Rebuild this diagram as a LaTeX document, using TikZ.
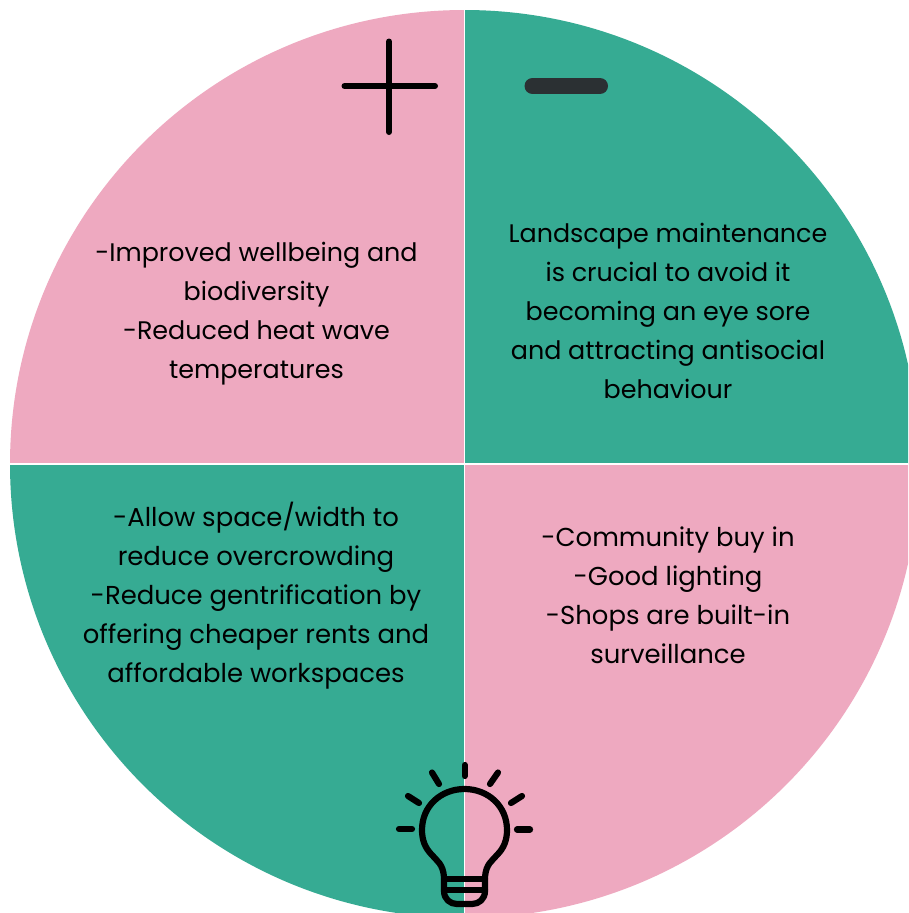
\documentclass[tikz,border=0pt]{standalone}
\usepackage{fontspec}
\setmainfont{Poppins}
\definecolor{pinkq}{HTML}{EEA9C0}
\definecolor{greenq}{HTML}{36AB93}
\definecolor{darkbar}{HTML}{2B3033}
\tikzset{
  lbl/.style={align=center,font=\fontsize{25.4}{39}\selectfont,text=black,inner sep=0pt},
  lblb/.style={align=center,font=\fontsize{25.9}{39}\selectfont,text=black,inner sep=0pt},
  ico/.style={draw=black,line width=6.2pt,line cap=round,line join=round},
}
\begin{document}
\begin{tikzpicture}[x=1pt,y=-1pt]
\useasboundingbox (0,0) rectangle (908,913);
\clip (0,0) rectangle (908,913);
\fill[white] (0,0) rectangle (908,913);
\fill[pinkq] (464.5,464) -- (10,464) arc[start angle=180,end angle=90,x radius=454.5,y radius=-454] -- cycle;
\fill[greenq] (464.5,464) -- (464.5,10) arc[start angle=90,end angle=0,x radius=454.5,y radius=-454] -- cycle;
\fill[greenq] (464.5,464) -- (10,464) arc[start angle=180,end angle=270,x radius=454.5,y radius=-454] -- cycle;
\fill[pinkq] (464.5,464) -- (464.5,918) arc[start angle=270,end angle=360,x radius=454.5,y radius=-454] -- cycle;
\coordinate (top) at (464.5,10);
\coordinate (bot) at (464.5,918);
\coordinate (lft) at (10,464);
\coordinate (rgt) at (919,464);
\draw[white,line width=1.2pt] (top) -- (bot);
\draw[white,line width=1.2pt] (lft) -- (rgt);
% plus
\draw[ico,line width=6pt] (344.5,86) -- (435,86);
\draw[ico,line width=6pt] (389,41.5) -- (389,132);
% minus
\draw[darkbar,line width=16pt,line cap=round] (532.5,86) -- (600,86);
% texts
\node[lbl] (tl) at (256.5,313.5) {-Improved wellbeing and\\biodiversity\\-Reduced heat wave\\temperatures};
\node[lbl] (tr) at (668,310.5) {Landscape maintenance\\is crucial to avoid it\\becoming an eye sore\\and attracting antisocial\\behaviour};
\node[lblb] (bl) at (256,596) {-Allow space/width to\\reduce overcrowding\\-Reduce gentrification by\\offering cheaper rents and\\affordable workspaces};
\node[lblb] (br) at (668,595) {-Community buy in\\-Good lighting\\-Shops are built-in\\surveillance};
% bulb
\draw[ico] (444,877) .. controls (443,864) and (437,861) .. (432,855)
  .. controls (425,848) and (422,840) .. (422,830)
  .. controls (422,806) and (441,789) .. (464.5,789)
  .. controls (488,789) and (507,806) .. (507,830)
  .. controls (507,840) and (504,848) .. (497,855)
  .. controls (492,861) and (486,864) .. (485,877)
  -- (485,891) .. controls (485,899) and (479,904) .. (472,904)
  -- (457,904) .. controls (450,904) and (444,899) .. (444,891) -- cycle;
\draw[ico] (444,879) -- (485,879);
\draw[ico] (444,890) -- (485,890);
\draw[ico] (464.7,765) -- (464.7,776);
\draw[ico] (432,772.5) -- (439,784);
\draw[ico] (498,772.5) -- (490,784);
\draw[ico] (408,796) -- (419,803);
\draw[ico] (522,796) -- (511,803);
\draw[ico] (399,829) -- (412,829);
\draw[ico] (517,829.5) -- (530,829.5);
\end{tikzpicture}
\end{document}
